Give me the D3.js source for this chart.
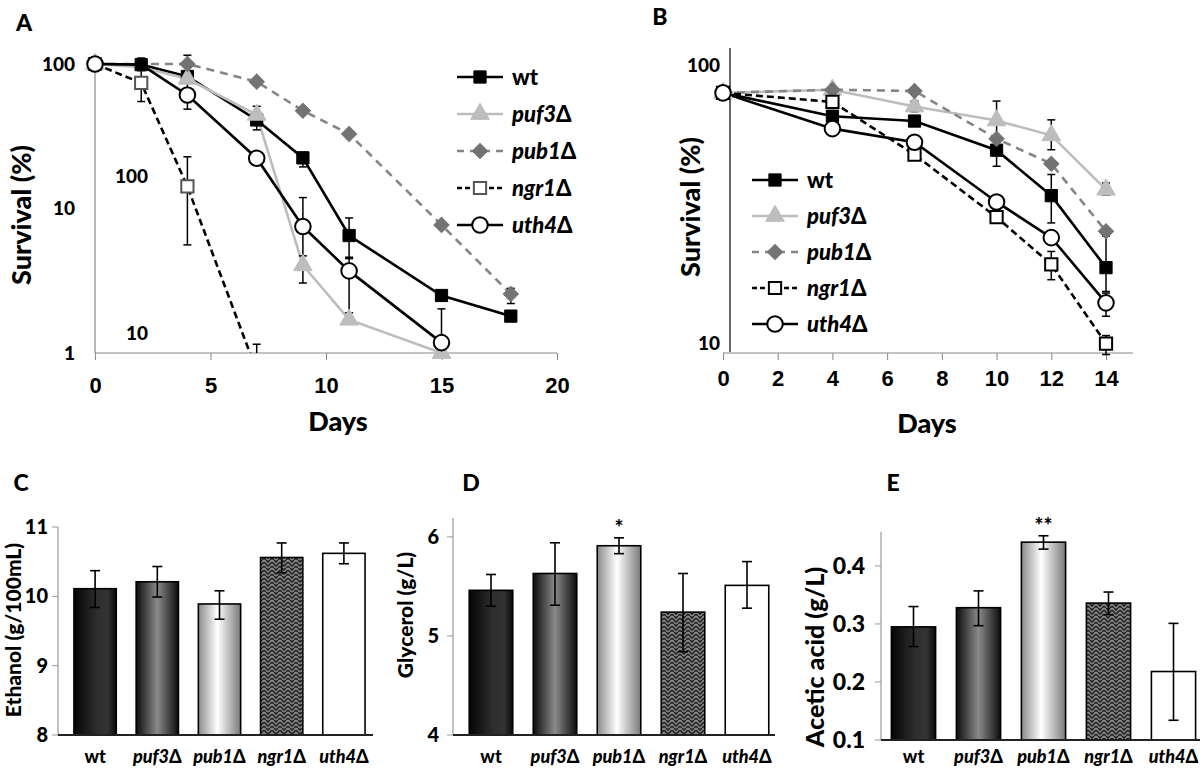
<!DOCTYPE html>
<html>
<head>
<meta charset="utf-8">
<script src="https://cdn.jsdelivr.net/npm/d3@7"></script>
<style>
  body { margin: 0; background: #fff; }
  svg { display: block; font-family: Lato, "Open Sans", sans-serif; font-weight: 900; }
</style>
</head>
<body>
<svg id="fig" width="1200" height="770"></svg>
<script>
// ---- data ----
var strains = ["wt", "puf3", "pub1", "ngr1", "uth4"];

// panel A: [day, survival %] and error bars [day, low, high]
var a_wt = [[0, 100], [2, 99], [4, 82], [7, 41], [9, 22.4], [11, 6.5], [15, 2.5], [18, 1.8]];
var a_puf3 = [[0, 100], [2, 95], [4, 79], [7, 44.5], [9, 4.05], [11, 1.7], [15, 1.0]];
var a_pub1 = [[0, 100], [4, 100], [7, 75.5], [9, 47.5], [11, 32.8], [15, 7.7], [18, 2.56]];
var a_ngr1 = [[0, 100], [2, 74], [4, 14.2], [7, 0.75]];
var a_uth4 = [[0, 100], [2, 99], [4, 61], [7, 22.3], [9, 7.5], [11, 3.7], [15, 1.18]];
var a_wt_err = [[2, 95, 110], [7, 35, 51], [9, 19.4, 24.5], [11, 4.5, 8.6]];
var a_puf3_err = [[9, 3.05, 4.1]];
var a_pub1_err = [[4, 95, 115], [18, 2.2, 2.8]];
var a_ngr1_err = [[2, 55, 90], [4, 5.6, 22.8], [7, 0.5, 1.15]];
var a_uth4_err = [[4, 48.7, 75], [9, 4.7, 11.9], [11, 1.9, 4.6], [15, 0.5, 2.02]];
// points whose marker is hidden under another one in the figure
var a_hidden = { uth4: [2], puf3: [2] };

// panel B
var b_wt = [[0, 79], [4, 65.6], [7, 63.1], [10, 50], [12, 34.8], [14, 19.6]];
var b_puf3 = [[0, 79], [4, 81], [7, 70.9], [10, 63.4], [12, 56.3], [14, 36.5]];
var b_pub1 = [[0, 79], [4, 81], [7, 80.2], [10, 54.8], [12, 44.9], [14, 26.2]];
var b_ngr1 = [[0, 79], [4, 73.5], [7, 48.3], [10, 29.3], [12, 20.1], [14, 10.7]];
var b_uth4 = [[0, 79], [4, 59.4], [7, 53.3], [10, 33.1], [12, 24.9], [14, 14.8]];
var b_wt_err = [[12, 28, 41.2], [14, 16.2, 25.2]];
var b_puf3_err = [[7, 68, 74], [10, 44, 74], [12, 50.2, 63.7], [14, 35, 38.5]];
var b_pub1_err = [];
var b_ngr1_err = [[12, 17.8, 22.3], [14, 9.8, 11.4]];
var b_uth4_err = [[14, 13.3, 16]];

var ticksA_x = [0, 5, 10, 15, 20];
var ticksA_y = [1, 10, 100];
var ticksB_x = [0, 2, 4, 6, 8, 10, 12, 14];
var ticksB_y = [10, 100];

// panels C-E
var ethanol = [10.11, 10.21, 9.89, 10.56, 10.62];
var ethanol_lo = [9.84, 9.99, 9.67, 10.34, 10.47];
var ethanol_hi = [10.37, 10.43, 10.08, 10.77, 10.77];
var glycerol = [5.46, 5.63, 5.91, 5.24, 5.51];
var glycerol_lo = [5.30, 5.31, 5.83, 4.84, 5.28];
var glycerol_hi = [5.62, 5.94, 5.99, 5.63, 5.75];
var glycerol_sig = ["", "", "*", "", ""];
var acetic = [0.295, 0.328, 0.441, 0.336, 0.218];
var acetic_lo = [0.261, 0.297, 0.429, 0.316, 0.134];
var acetic_hi = [0.330, 0.357, 0.452, 0.355, 0.301];
var acetic_sig = ["", "", "**", "", ""];
var ticksC = [8, 9, 10, 11];
var ticksD = [4, 5, 6];
var ticksE = [0.1, 0.2, 0.3, 0.4];

// ---- styles ----
var style = {
    wt:   { stroke: "#000", dash: null, shape: "square", fill: "#000", mstroke: "#000" },
    puf3: { stroke: "#bdbdbd", dash: null, shape: "triangle", fill: "#bdbdbd", mstroke: "#bdbdbd" },
    pub1: { stroke: "#858585", dash: "8,6", shape: "diamond", fill: "#737373", mstroke: "#737373" },
    ngr1: { stroke: "#000", dash: "7,4", shape: "square", fill: "#fff", mstroke: "#555" },
    uth4: { stroke: "#000", dash: null, shape: "circle", fill: "#fff", mstroke: "#000" }
};

var svg = d3.select("#fig");
var defs = svg.append("defs");

function symbolPath(shape) {
    if (shape === "square") return d3.symbol(d3.symbolSquare, 150)();
    if (shape === "triangle") return d3.symbol(d3.symbolTriangle, 150)();
    if (shape === "diamond") return d3.symbol(d3.symbolSquare, 115)();
    return d3.symbol(d3.symbolCircle, 190)();
}

function marker(g, name, x, y, mstroke) {
    var s = style[name];
    g.append("path")
        .attr("d", symbolPath(s.shape))
        .attr("transform", "translate(" + [x, y] + ")" + (s.shape === "diamond" ? " rotate(45)" : ""))
        .attr("fill", s.fill)
        .attr("stroke", mstroke || s.mstroke)
        .attr("stroke-width", s.shape === "circle" || name === "ngr1" ? 2 : 1);
}

function label(sel, name, size) {
    sel.attr("font-size", size);
    if (name === "wt") {
        sel.text("wt");
    } else {
        sel.append("tspan").attr("font-style", "italic").text(name);
        sel.append("tspan").text("Δ");
    }
}

function survival(opt) {
    var g = svg.append("g");
    var x = d3.scaleLinear().domain(opt.xdom).range(opt.xrange);
    var y = d3.scaleLog().domain(opt.ydom).range(opt.yrange);

    var clipId = "clip" + opt.id;
    defs.append("clipPath").attr("id", clipId)
        .append("rect")
        .attr("x", opt.xrange[0] - 20).attr("y", 0)
        .attr("width", opt.xrange[1] - opt.xrange[0] + 60)
        .attr("height", opt.clipBottom);

    // x axis
    var xa = g.append("g")
        .attr("transform", "translate(0," + opt.xaxisY + ")")
        .call(d3.axisBottom(x).tickValues(opt.xticks).tickSize(7).tickSizeOuter(0).tickFormat(d3.format("d")));
    xa.select(".domain").remove();
    xa.selectAll(".tick line").attr("stroke", "#888");
    xa.selectAll(".tick text").attr("font-size", 22).attr("y", opt.xlabelY).attr("dy", "0.35em").attr("fill", "#000");
    g.append("line")
        .attr("x1", x(opt.xdom[0])).attr("x2", opt.xaxisEnd)
        .attr("y1", opt.xaxisY).attr("y2", opt.xaxisY)
        .attr("stroke", "#888").attr("stroke-width", 1.2);

    // y axis
    g.append("line")
        .attr("x1", opt.yaxisX).attr("x2", opt.yaxisX)
        .attr("y1", opt.yrange[1]).attr("y2", opt.yrange[0])
        .attr("stroke", opt.yaxisColor).attr("stroke-width", 1.2);
    g.selectAll("text.ytick")
        .data(opt.yticks)
        .enter()
        .append("text")
            .attr("class", "ytick")
            .attr("x", opt.yaxisX - opt.ylabelGap)
            .attr("y", function(d) { return y(d) + opt.ylabelShift(d); })
            .attr("dy", "0.35em")
            .attr("text-anchor", "end")
            .attr("font-size", 19)
            .text(function(d) { return d; });

    var line = d3.line()
        .x(function(d) { return x(d[0]); })
        .y(function(d) { return y(d[1]); });

    var plot = g.append("g");
    var order = ["wt", "puf3", "pub1", "ngr1", "uth4"];
    order.forEach(function(name) {
        var s = style[name];
        plot.append("path")
            .attr("d", line(opt.series[name]))
            .attr("fill", "none")
            .attr("stroke", s.stroke)
            .attr("stroke-width", 2.6)
            .attr("stroke-dasharray", s.dash)
            .attr("clip-path", "url(#" + clipId + ")");
    });
    order.forEach(function(name) {
        var eg = plot.append("g").attr("clip-path", "url(#" + clipId + ")");
        opt.errors[name].forEach(function(e) {
            var cx = x(e[0]);
            eg.append("line").attr("x1", cx).attr("x2", cx)
                .attr("y1", y(e[1])).attr("y2", y(e[2]))
                .attr("stroke", "#000").attr("stroke-width", 1.5);
            [e[1], e[2]].forEach(function(v) {
                eg.append("line").attr("x1", cx - 4).attr("x2", cx + 4)
                    .attr("y1", y(v)).attr("y2", y(v))
                    .attr("stroke", "#000").attr("stroke-width", 1.5);
            });
        });
    });
    order.forEach(function(name) {
        var hidden = (opt.hidden && opt.hidden[name]) || [];
        opt.series[name].forEach(function(d) {
            if (d[1] < opt.ydom[0] || hidden.indexOf(d[0]) >= 0) return;
            marker(plot, name, x(d[0]), y(d[1]), opt.markerStroke[name]);
        });
    });

    // legend
    var lg = g.append("g");
    strains.forEach(function(name, i) {
        var s = style[name];
        var ly = opt.legend.y + i * opt.legend.step;
        lg.append("line")
            .attr("x1", opt.legend.x).attr("x2", opt.legend.x + 46)
            .attr("y1", ly).attr("y2", ly)
            .attr("stroke", s.stroke).attr("stroke-width", 2.6)
            .attr("stroke-dasharray", s.dash === null ? null : (name === "ngr1" ? "5,3" : "7,6"));
        marker(lg, name, opt.legend.x + 23, ly, opt.markerStroke[name]);
        lg.append("text")
            .attr("x", opt.legend.x + 55).attr("y", ly).attr("dy", "0.35em")
            .call(label, name, 22);
    });

    // titles
    g.append("text")
        .attr("transform", "translate(" + opt.ytitle + ") rotate(-90)")
        .attr("text-anchor", "middle").attr("font-size", 27)
        .text("Survival (%)");
    g.append("text")
        .attr("x", opt.xtitle[0]).attr("y", opt.xtitle[1])
        .attr("text-anchor", "middle").attr("font-size", 27)
        .text("Days");
    return g;
}

survival({
    id: "A",
    xdom: [0, 20], xrange: [95, 557],
    ydom: [1, 100], yrange: [353, 64],
    xticks: ticksA_x, yticks: ticksA_y, xlabelY: 32,
    xaxisY: 353, xaxisEnd: 557, yaxisX: 95, yaxisColor: "#888",
    ylabelGap: 20, ylabelShift: function() { return 0; },
    clipBottom: 353,
    series: { wt: a_wt, puf3: a_puf3, pub1: a_pub1, ngr1: a_ngr1, uth4: a_uth4 },
    errors: { wt: a_wt_err, puf3: a_puf3_err, pub1: a_pub1_err, ngr1: a_ngr1_err, uth4: a_uth4_err },
    hidden: a_hidden,
    markerStroke: {},
    legend: { x: 457, y: 77, step: 37 },
    ytitle: [31, 215], xtitle: [338, 431]
});

survival({
    id: "B",
    xdom: [0, 14], xrange: [723, 1106],
    ydom: [10, 113], yrange: [352, 48],
    xticks: ticksB_x, yticks: ticksB_y, xlabelY: 25,
    xaxisY: 353, xaxisEnd: 1133, yaxisX: 730, yaxisColor: "#000",
    ylabelGap: 10, ylabelShift: function(d) { return d === 10 ? -9 : 2; },
    clipBottom: 362,
    series: { wt: b_wt, puf3: b_puf3, pub1: b_pub1, ngr1: b_ngr1, uth4: b_uth4 },
    errors: { wt: b_wt_err, puf3: b_puf3_err, pub1: b_pub1_err, ngr1: b_ngr1_err, uth4: b_uth4_err },
    markerStroke: { ngr1: "#000" },
    legend: { x: 752, y: 180, step: 36 },
    ytitle: [700, 207], xtitle: [927, 433]
});

// stray labels left inside panel A
svg.append("text").attr("x", 148).attr("y", 176).attr("dy", "0.35em")
    .attr("text-anchor", "end").attr("font-size", 19).text("100");
svg.append("text").attr("x", 148).attr("y", 333).attr("dy", "0.35em")
    .attr("text-anchor", "end").attr("font-size", 19).text("10");

// ---- bar fills ----
function gradient(id, stops) {
    var lg = defs.append("linearGradient").attr("id", id)
        .attr("x1", "0%").attr("x2", "100%").attr("y1", "0%").attr("y2", "0%");
    stops.forEach(function(s) {
        lg.append("stop").attr("offset", s[0]).attr("stop-color", s[1]);
    });
}
gradient("gWt", [["0%", "#050505"], ["55%", "#2e2e2e"], ["80%", "#333"], ["100%", "#0a0a0a"]]);
gradient("gPuf3", [["0%", "#0d0d0d"], ["50%", "#8a8a8a"], ["100%", "#0d0d0d"]]);
gradient("gPub1", [["0%", "#8a8a8a"], ["45%", "#ffffff"], ["100%", "#7a7a7a"]]);

var pat = defs.append("pattern").attr("id", "pNgr1")
    .attr("patternUnits", "userSpaceOnUse").attr("width", 8).attr("height", 8);
pat.append("rect").attr("width", 8).attr("height", 8).attr("fill", "#909090");
pat.append("path").attr("d", "M0,2 L4,6 L8,2 M0,6 L2,8 M6,8 L8,6 M2,0 L4,2 L6,0")
    .attr("fill", "none").attr("stroke", "#222").attr("stroke-width", 1.7);

var barFill = ["url(#gWt)", "url(#gPuf3)", "url(#gPub1)", "url(#pNgr1)", "#fff"];

function barChart(opt) {
    var g = svg.append("g");
    var x = d3.scaleBand().domain(strains).range(opt.xrange).paddingInner(0.32).paddingOuter(0.16);
    var y = d3.scaleLinear().domain(opt.ydom).range(opt.yrange);
    var x0 = opt.xrange[0] - opt.axisPad;

    g.append("line")
        .attr("x1", x0).attr("x2", x0)
        .attr("y1", opt.yrange[0]).attr("y2", opt.yrange[1])
        .attr("stroke", "#999").attr("stroke-width", 1.2);
    g.selectAll("line.tk")
        .data(opt.ticks)
        .enter()
        .append("line")
            .attr("class", "tk")
            .attr("x1", x0 - 6).attr("x2", x0)
            .attr("y1", function(d) { return y(d); })
            .attr("y2", function(d) { return y(d); })
            .attr("stroke", "#999");
    g.selectAll("text.tk")
        .data(opt.ticks)
        .enter()
        .append("text")
            .attr("class", "tk")
            .attr("x", x0 - opt.labelGap)
            .attr("y", function(d) { return y(d); })
            .attr("dy", "0.35em")
            .attr("text-anchor", "end")
            .attr("font-size", opt.tickSize)
            .text(opt.fmt);

    g.selectAll("rect.bar")
        .data(opt.values)
        .enter()
        .append("rect")
            .attr("class", "bar")
            .attr("x", function(d, i) { return x(strains[i]); })
            .attr("width", x.bandwidth())
            .attr("y", function(d) { return y(d); })
            .attr("height", function(d) { return y(opt.ydom[0]) - y(d); })
            .attr("fill", function(d, i) { return barFill[i]; })
            .attr("stroke", "#000")
            .attr("stroke-width", 1.6);

    opt.values.forEach(function(v, i) {
        var cx = x(strains[i]) + x.bandwidth() / 2;
        g.append("line").attr("x1", cx).attr("x2", cx)
            .attr("y1", y(opt.lo[i])).attr("y2", y(opt.hi[i]))
            .attr("stroke", "#000").attr("stroke-width", 1.6);
        [opt.lo[i], opt.hi[i]].forEach(function(e) {
            g.append("line").attr("x1", cx - 5).attr("x2", cx + 5)
                .attr("y1", y(e)).attr("y2", y(e))
                .attr("stroke", "#000").attr("stroke-width", 1.6);
        });
        if (opt.sig && opt.sig[i]) {
            g.append("text").attr("x", cx).attr("y", y(opt.hi[i]) - 3)
                .attr("text-anchor", "middle").attr("font-size", 21)
                .attr("fill", "#000")
                .text(opt.sig[i]);
        }
        g.append("text")
            .attr("x", cx).attr("y", opt.labelY)
            .attr("dy", "0.35em").attr("text-anchor", "middle")
            .call(label, strains[i], opt.catSize);
    });

    g.append("line")
        .attr("x1", x0).attr("x2", opt.xend)
        .attr("y1", y(opt.ydom[0])).attr("y2", y(opt.ydom[0]))
        .attr("stroke", "#222").attr("stroke-width", 1.8);

    g.append("text")
        .attr("transform", "translate(" + opt.ytitle + ") rotate(-90)")
        .attr("text-anchor", "middle").attr("font-size", opt.titleSize)
        .text(opt.title);
    return g;
}

barChart({
    xrange: [64, 375], axisPad: 6, xend: 373,
    ydom: [8, 11], yrange: [735, 527],
    ticks: ticksC, fmt: d3.format("d"), tickSize: 20, labelGap: 10,
    values: ethanol, lo: ethanol_lo, hi: ethanol_hi,
    labelY: 757, catSize: 18,
    title: "Ethanol  (g/100mL)", titleSize: 21, ytitle: [21, 630]
});

barChart({
    xrange: [459, 779], axisPad: 6, xend: 775,
    ydom: [4, 6.19], yrange: [735, 518],
    ticks: ticksD, fmt: d3.format("d"), tickSize: 20, labelGap: 14,
    values: glycerol, lo: glycerol_lo, hi: glycerol_hi, sig: glycerol_sig,
    labelY: 757, catSize: 18,
    title: "Glycerol (g/L)", titleSize: 21, ytitle: [413, 615]
});

barChart({
    xrange: [881, 1206], axisPad: 0, xend: 1200,
    ydom: [0.1, 0.459], yrange: [740, 531.7],
    ticks: ticksE, fmt: d3.format(".1f"), tickSize: 23, labelGap: 16,
    values: acetic, lo: acetic_lo, hi: acetic_hi, sig: acetic_sig,
    labelY: 757, catSize: 18,
    title: "Acetic acid (g/L)", titleSize: 25, ytitle: [824, 657]
});

// panel letters
[["A", 24, 23], ["B", 660, 17], ["C", 21, 483], ["D", 471, 483], ["E", 893, 483]].forEach(function(p) {
    svg.append("text").attr("x", p[1]).attr("y", p[2]).attr("dy", "0.35em")
        .attr("text-anchor", "middle").attr("font-size", 23).text(p[0]);
});
</script>
</body>
</html>
